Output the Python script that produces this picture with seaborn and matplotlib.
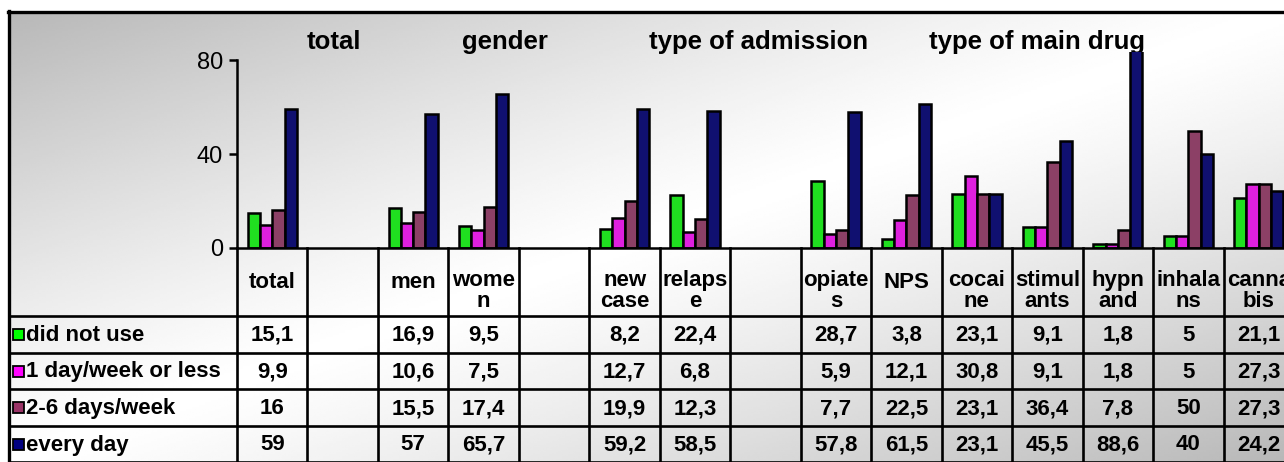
import numpy as np
import pandas as pd
import seaborn as sns
import matplotlib.pyplot as plt
from matplotlib.patches import Rectangle

# data (blank columns are spacers between groups)
columns = ['total', ' ', 'men', 'wome\nn', '  ', 'new\ncase', 'relaps\ne', '   ',
           'opiate\ns', 'NPS', 'cocai\nne', 'stimul\nants', 'hypn\nand', 'inhala\nns', 'canna\nbis']
series = ['did not use', '1 day/week or less', '2-6 days/week', 'every day']
did_not_use = [15.1, None, 16.9, 9.5, None, 8.2, 22.4, None, 28.7, 3.8, 23.1, 9.1, 1.8, 5, 21.1]
one_day_or_less = [9.9, None, 10.6, 7.5, None, 12.7, 6.8, None, 5.9, 12.1, 30.8, 9.1, 1.8, 5, 27.3]
two_six_days = [16, None, 15.5, 17.4, None, 19.9, 12.3, None, 7.7, 22.5, 23.1, 36.4, 7.8, 50, 27.3]
every_day = [59, None, 57, 65.7, None, 59.2, 58.5, None, 57.8, 61.5, 23.1, 45.5, 88.6, 40, 24.2]
group_titles = ['total', 'gender', 'type of admission', 'type of main drug']
group_title_x = [0.88, 3.3, 6.9, 10.85]   # in column units

colors = ['#00ff00', '#ff00ff', '#993366', '#000080']

values = [did_not_use, one_day_or_less, two_six_days, every_day]
df = pd.DataFrame({
    'column': columns * 4,
    'series': np.repeat(series, len(columns)),
    'value': sum(values, []),
}).dropna()

W, H = 1284, 462
plt.rcParams['font.family'] = ['Liberation Sans', 'DejaVu Sans']
fig = plt.figure(figsize=(W / 100, H / 100), dpi=100)

# background: white margin + diagonal grey-white-grey gradient inside the frame
bg = fig.add_axes([0, 0, 1, 1], zorder=0)
bg.set_xlim(0, W)
bg.set_ylim(H, 0)
bg.axis('off')
xx, yy = np.meshgrid(np.linspace(0, 1, 400), np.linspace(0, 1, 200))
t = np.abs((xx + yy) - 1.0)
shade = 1.0 - 0.28 * t ** 1.2
bg.imshow(shade, cmap='gray', vmin=0, vmax=1, extent=[9, W, H, 12],
          aspect='auto', interpolation='bilinear')
bg.plot([9, 9], [H, 11], color='black', lw=2.4)
bg.plot([8, W], [12, 12], color='black', lw=2.4)

# chart area
left_px, base_px, top_px = 237, 248, 52.3
colw = 1057 / 15
ax = fig.add_axes([left_px / W, (H - base_px) / H, colw * 15 / W, (base_px - top_px) / H], zorder=2)
ax.patch.set_alpha(0)
sns.barplot(data=df, x='column', y='value', hue='series', order=columns, hue_order=series,
            palette=colors, edgecolor='black', linewidth=1.8, width=0.7,
            errorbar=None, legend=False, ax=ax)
ax.set_xlim(-0.5, 14.5)
ax.set_ylim(0, 83.3)
ax.set_yticks([0, 40, 80])
ax.set_xticks([])
ax.set_xlabel('')
ax.set_ylabel('')
ax.spines['left'].set_bounds(0, 80)
for s in ['top', 'right']:
    ax.spines[s].set_visible(False)
for s in ['left', 'bottom']:
    ax.spines[s].set_linewidth(1.8)
ax.tick_params(axis='y', direction='out', length=6, width=1.8, labelsize=17, pad=4)

# group titles
for title, gx in zip(group_titles, group_title_x):
    bg.text(left_px + (gx + 0.5) * colw, 49, title, ha='center', va='baseline',
            fontsize=18.5, fontweight='bold', zorder=3)

# data table under the chart
row_lines = [316, 353, 389, 426, 462]
over = fig.add_axes([0, 0, 1, 1], zorder=3)
over.set_xlim(0, W)
over.set_ylim(H, 0)
over.axis('off')
for k in range(16):
    xk = left_px + k * colw
    over.plot([xk, xk], [base_px, H], color='black', lw=1.9)
for yk in row_lines:
    over.plot([9, W], [yk, yk], color='black', lw=1.9)

for i, label in enumerate(columns):
    xc = left_px + (i + 0.5) * colw
    two_lines = '\n' in label
    over.text(xc, 291 if two_lines else 282, label.strip(), ha='center', va='center',
              fontsize=16, fontweight='bold', linespacing=1.05)

for r, (name, vals, col) in enumerate(zip(series, values, colors)):
    y0, y1 = row_lines[r], row_lines[r + 1]
    yc = (y0 + y1) / 2
    over.add_patch(Rectangle((13, yc - 5.5), 11, 11, facecolor=col, edgecolor='black', lw=1.3))
    over.text(26, yc + 1, name, ha='left', va='center', fontsize=16, fontweight='bold')
    for i, v in enumerate(vals):
        if v is None:
            continue
        txt = f'{v:g}'.replace('.', ',')
        over.text(left_px + (i + 0.5) * colw, yc + 1, txt, ha='center', va='center',
                  fontsize=16, fontweight='bold')

fig.savefig('out.png', dpi=100)
